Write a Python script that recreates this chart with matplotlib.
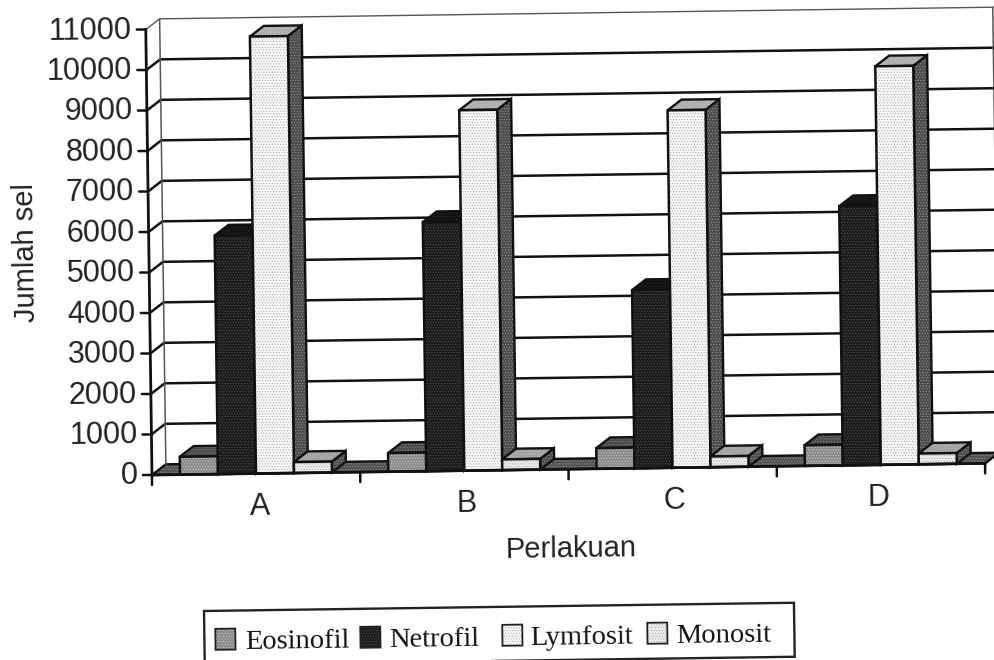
import numpy as np
import matplotlib
matplotlib.use("Agg")
import matplotlib.pyplot as plt
from matplotlib.patches import Rectangle
from matplotlib.transforms import Affine2D

categories = ['A', 'B', 'C', 'D']
series_names = ['Eosinofil', 'Netrofil', 'Lymfosit', 'Monosit']
eosinofil = [440, 460, 510, 510]
netrofil = [5890, 6150, 4400, 6400]
lymfosit = [10790, 8900, 8825, 9840]
monosit = [270, 265, 265, 265]
y_ticks = list(range(0, 12000, 1000))

# front, top, side colour and hatch colour for each series
front_cols = ['#8c8c8c', '#1c1c1c', '#f6f6f6', '#ececec']
top_cols = ['#4a4a4a', '#111111', '#b4b4b4', '#a8a8a8']
side_cols = ['#4a4a4a', '#0c0c0c', '#4c4c4c', '#4c4c4c']
hatch_cols = ['#c8c8c8', '#555555', '#a8a8a8', '#a0a0a0']
side_hatch = ['#888888', '#333333', '#999999', '#999999']
legend_x = [215, 360, 502, 647]
legend_text_x = [245, 389, 530, 676]
label_nudge = [4, 2, 2, -3]

plt.rcParams['hatch.linewidth'] = 0.4

fig = plt.figure(figsize=(9.95, 6.6), dpi=100)
ax = fig.add_axes([0, 0, 1, 1])
ax.set_xlim(0, 995)
ax.set_ylim(0, 660)
ax.autoscale(False)
ax.axis('off')

# the scan is a little crooked, so everything goes through a tilted transform
tilt = 0.8
px_cat = 208.3
px_val = 40.5 / 1000
tr = Affine2D().scale(px_cat, px_val).rotate_deg(tilt).translate(152, 185) + ax.transData

dep_x = 14 / px_cat
dep_y = 10.5 / px_val
n_cat = len(categories)
y_top = y_ticks[-1]


def face(xs, ys, fc, hc, z):
    ax.fill(xs, ys, transform=tr, facecolor=fc, edgecolor=hc, lw=0, hatch='......', zorder=z)
    ax.fill(xs, ys, transform=tr, fill=False, edgecolor='#111111', lw=1.7, zorder=z)


# floor
face([0, n_cat, n_cat + dep_x, dep_x], [0, 0, dep_y, dep_y], '#525252', '#999999', 1)

# walls and grid
for v in y_ticks[1:]:
    col, lw = ('#555555', 1.0) if v == y_top else ('#111111', 1.8)
    ax.plot([0, dep_x, n_cat + dep_x], [v, v + dep_y, v + dep_y], transform=tr,
            color=col, lw=lw, zorder=2)
ax.plot([dep_x, dep_x], [dep_y, y_top + dep_y], transform=tr, color='#555555', lw=1.1, zorder=2)
ax.plot([n_cat + dep_x] * 2, [dep_y, y_top + dep_y], transform=tr, color='#555555', lw=1.1, zorder=2)

# bars
all_series = [eosinofil, netrofil, lymfosit, monosit]
bar_w = 38 / px_cat
start = 28 / px_cat
z = 3
for c in range(n_cat):
    for s, vals in enumerate(all_series):
        v = vals[c]
        x0 = c + start + s * bar_w
        x1 = x0 + bar_w
        face([x1, x1 + dep_x, x1 + dep_x, x1], [0, dep_y, v + dep_y, v], side_cols[s], side_hatch[s], z)
        face([x0, x1, x1 + dep_x, x0 + dep_x], [v, v, v + dep_y, v + dep_y], top_cols[s], side_hatch[s], z)
        ax.bar(x0, v, bar_w, align='edge', transform=tr, color=front_cols[s],
               edgecolor=hatch_cols[s], lw=0, hatch='......', zorder=z + 0.1)
        ax.bar(x0, v, bar_w, align='edge', transform=tr, fill=False,
               edgecolor='#111111', lw=1.8, zorder=z + 0.2)
        z += 1

# axes lines, ticks and labels
ax.plot([0, 0], [0, y_top], transform=tr, color='#111111', lw=2.0, zorder=z)
ax.plot([0, n_cat], [0, 0], transform=tr, color='#111111', lw=2.0, zorder=z)
for v in y_ticks:
    ax.annotate('', xy=(0, v), xycoords=tr, xytext=(-9, 0), textcoords='offset pixels',
                arrowprops=dict(arrowstyle='-', color='#111111', lw=1.8, shrinkA=0, shrinkB=0))
    ax.annotate(str(v), xy=(0, v), xycoords=tr, xytext=(-14, -1), textcoords='offset pixels',
                ha='right', va='center', fontsize=22, family='Liberation Sans',
                color='#222222', rotation=tilt, rotation_mode='anchor')
for c in range(n_cat + 1):
    ax.annotate('', xy=(c, 0), xycoords=tr, xytext=(0, -10), textcoords='offset pixels',
                arrowprops=dict(arrowstyle='-', color='#111111', lw=1.8, shrinkA=0, shrinkB=0))
for c, name in enumerate(categories):
    ax.annotate(name, xy=(c + 0.5, 0), xycoords=tr, xytext=(label_nudge[c], -33), textcoords='offset pixels',
                ha='center', va='center', fontsize=22, family='Liberation Sans',
                color='#222222', rotation=tilt, rotation_mode='anchor')

ax.text(571, 660 - 549, 'Perlakuan', ha='center', va='center', fontsize=21,
        family='Liberation Sans', color='#222222', rotation=tilt)
ax.text(26, 660 - 253, 'Jumlah sel', ha='center', va='center', fontsize=21,
        family='Liberation Sans', color='#222222', rotation=90 + tilt)

# legend box, drawn by hand so it can tilt with the rest
tr_leg = Affine2D().rotate_deg(tilt).translate(204, 660 - 611) + ax.transData
ax.add_patch(Rectangle((0, -54), 590, 54, transform=tr_leg, fill=False,
                       edgecolor='#222222', lw=1.7, zorder=z))
for name, lx, tx, fc, hc in zip(series_names, legend_x, legend_text_x, front_cols, hatch_cols):
    ax.add_patch(Rectangle((lx - 204, -39), 20, 21, transform=tr_leg, facecolor=fc,
                           edgecolor=hc, lw=0, hatch='......', zorder=z))
    ax.add_patch(Rectangle((lx - 204, -39), 20, 21, transform=tr_leg, fill=False,
                           edgecolor='#222222', lw=1.3, zorder=z))
    ax.text(tx - 204, -39, name, transform=tr_leg, ha='left', va='baseline', fontsize=20.5,
            family='Liberation Serif', color='#111111', rotation=tilt, rotation_mode='anchor')

fig.savefig('out.png', dpi=100)
